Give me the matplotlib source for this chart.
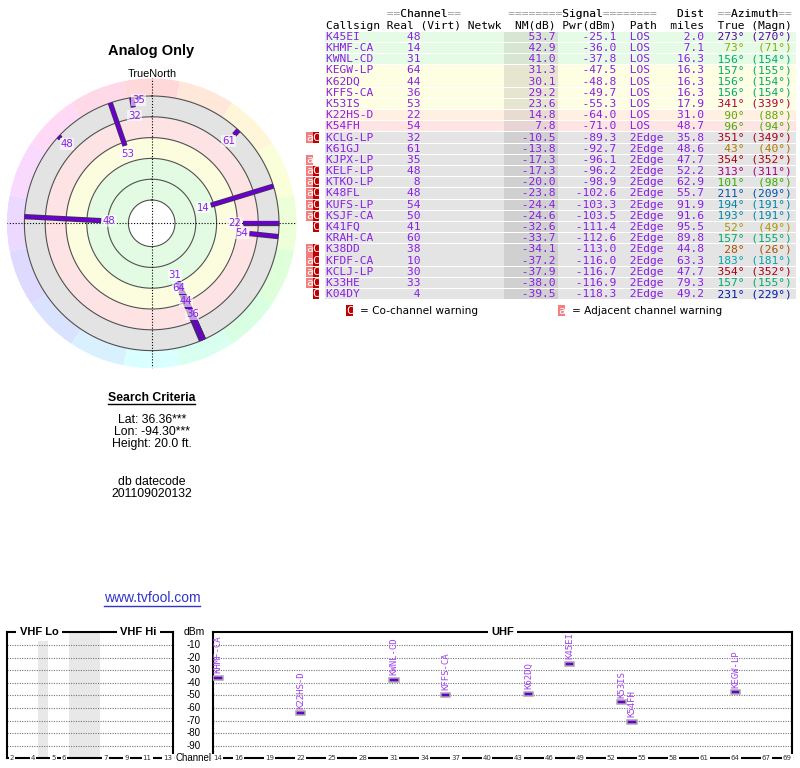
import colorsys
import numpy as np
import matplotlib
matplotlib.use("Agg")
import matplotlib.pyplot as plt
import matplotlib.patheffects as pe

# ============================================================
# TV Fool style report: analog stations (polar plot, table, spectrum)
# ============================================================

callsigns = ["K45EI", "KHMF-CA", "KWNL-CD", "KEGW-LP", "K62DQ", "KFFS-CA", "K53IS",
             "K22HS-D", "K54FH", "KCLG-LP", "K61GJ", "KJPX-LP", "KELF-LP", "KTKO-LP",
             "K48FL", "KUFS-LP", "KSJF-CA", "K41FQ", "KRAH-CA", "K38DD", "KFDF-CA",
             "KCLJ-LP", "K33HE", "K04DY"]
channels = [48, 14, 31, 64, 44, 36, 53, 22, 54, 32, 61, 35, 48, 8, 48, 54, 50, 41,
            60, 38, 10, 30, 33, 4]
nm_db = [53.7, 42.9, 41.0, 31.3, 30.1, 29.2, 23.6, 14.8, 7.8, -10.5, -13.8, -17.3,
         -17.3, -20.0, -23.8, -24.4, -24.6, -32.6, -33.7, -34.1, -37.2, -37.9, -38.0, -39.5]
pwr_dbm = [-25.1, -36.0, -37.8, -47.5, -48.8, -49.7, -55.3, -64.0, -71.0, -89.3, -92.7,
           -96.1, -96.2, -98.9, -102.6, -103.3, -103.5, -111.4, -112.6, -113.0, -116.0,
           -116.7, -116.9, -118.3]
paths = ["LOS"] * 9 + ["2Edge"] * 15
dist_miles = [2.0, 7.1, 16.3, 16.3, 16.3, 16.3, 17.9, 31.0, 48.7, 35.8, 48.6, 47.7, 52.2,
              62.9, 55.7, 91.9, 91.6, 95.5, 89.8, 44.8, 63.3, 47.7, 79.3, 49.2]
az_true = [273, 73, 156, 157, 156, 156, 341, 90, 96, 351, 43, 354, 313, 101, 211, 194,
           193, 52, 157, 28, 183, 354, 157, 231]
az_magn = [270, 71, 154, 155, 154, 154, 339, 88, 94, 349, 40, 352, 311, 98, 209, 191,
           191, 49, 155, 26, 181, 352, 155, 229]
warnings = ["", "", "", "", "", "", "", "", "", "aC", "", "a", "aC", "aC", "aC", "aC",
            "aC", "C", "", "aC", "aC", "aC", "aC", "C"]

vhf_ticks = [2, 4, 5, 6, 7, 9, 11, 13]
uhf_ticks = [14, 16, 19, 22, 25, 28, 31, 34, 37, 40, 43, 46, 49, 52, 55, 58, 61, 64, 67, 69]
dbm_ticks = [-10, -20, -30, -40, -50, -60, -70, -80, -90]
ring_levels = [80, 60, 40, 20, 0, -20]

PURPLE = "#8a1fe6"
LINE_PURPLE = "#6a00d0"
LABEL_PURPLE = "#a040f0"
MONO = "DejaVu Sans Mono"
SANS = "Liberation Sans"


def az_color(az, sat=1.0, val=0.68):
    return colorsys.hsv_to_rgb((az % 360) / 360.0, sat, val)


def zone_colors(nm):
    # (row background, NM column background)
    if nm >= 35:
        return "#e6fbe6", "#d6e6d2"
    if nm >= 20:
        return "#fefee2", "#e6e6d0"
    if nm >= 10:
        return "#fff0e2", "#e8dcd2"
    if nm >= 0:
        return "#ffe4e4", "#e8d4d4"
    return "#e4e4e4", "#d0d0d0"


def place(items, fill=" "):
    width = max(c + len(t) for c, t in items)
    chars = [fill] * width
    for c, t in items:
        chars[c:c + len(t)] = list(t)
    return "".join(chars)


fig = plt.figure(figsize=(8, 7.68), dpi=100)
ov = fig.add_axes([0, 0, 1, 1])
ov.set_xlim(0, 800)
ov.set_ylim(768, 0)
ov.axis("off")

# =========================
# 1. Station table
# =========================
FS_TAB = 8.07
CW = 6.75
X0 = 326
n = len(callsigns)
row_y = 36.8 + 11.19 * np.arange(n)

bg = [zone_colors(v) for v in nm_db]
ov.barh(row_y, 471, left=325, height=10.3, color=[b[0] for b in bg], zorder=1)
ov.barh(row_y, 54, left=504, height=10.3, color=[b[1] for b in bg], zorder=1.1)

head1 = [(9, "==Channel=="), (27, "========Signal========"), (52, "Dist"), (58, "==Azimuth==")]
h1_full = place(head1)
h1_words = h1_full.replace("=", " ")
ov.text(X0, 14.3, h1_full, family=MONO, size=FS_TAB, color="#9a9a9a", va="center")
ov.text(X0, 14.3, h1_words, family=MONO, size=FS_TAB, color="black", va="center")
head2 = place([(0, "Callsign"), (9, "Real"), (14, "(Virt)"), (21, "Netwk"), (28, "NM(dB)"),
               (35, "Pwr(dBm)"), (45, "Path"), (51, "miles"), (58, "True"), (63, "(Magn)")])
ov.text(X0, 25.7, head2, family=MONO, size=FS_TAB, color="black", va="center")

for i in range(n):
    y = row_y[i]
    main = (callsigns[i].ljust(9) + str(channels[i]).rjust(5)
            + f"{nm_db[i]:.1f}".rjust(20) + f"{pwr_dbm[i]:.1f}".rjust(9) + "  "
            + paths[i].ljust(5) + f"{dist_miles[i]:.1f}".rjust(6))
    ov.text(X0, y, main, family=MONO, size=FS_TAB, color=PURPLE, va="center", zorder=3)
    az_txt = f"{az_true[i]}°".rjust(6) + f"({az_magn[i]}°)".rjust(7)
    ov.text(X0 + 56 * CW, y, az_txt, family=MONO, size=FS_TAB,
            color=az_color(az_true[i]), va="center", zorder=3)
    for flag, x_left, col in (("a", 306.0, "#f08080"), ("C", 312.5, "#c00000")):
        if flag in warnings[i]:
            ov.barh(y, 6.5, left=x_left, height=10.3, color=col, zorder=2)
            ov.text(x_left + 3.25, y, flag, family=MONO, size=FS_TAB, color="white",
                    ha="center", va="center", zorder=3)

# legend for warnings
ov.barh(310.7, 7, left=346.3, height=10.5, color="#c00000")
ov.text(349.8, 310.7, "C", family=MONO, size=FS_TAB, color="white", ha="center", va="center")
ov.text(360, 310.7, "= Co-channel warning", family="DejaVu Sans", size=7.6, va="center")
ov.barh(310.7, 6.5, left=558.3, height=10.5, color="#f08080")
ov.text(561.5, 310.7, "a", family=MONO, size=FS_TAB, color="white", ha="center", va="center")
ov.text(571.7, 310.7, "= Adjacent channel warning", family="DejaVu Sans", size=7.6, va="center")

# =========================
# 2. Polar plot
# =========================
R0 = 102.4          # radius units: r = R0 - NM(dB)
RMAX = 139.4
cx, cy, rad_px = 151.7, 223.3, 145.0
pax = fig.add_axes([(cx - rad_px) / 800, (768 - cy - rad_px) / 768,
                    2 * rad_px / 800, 2 * rad_px / 768], projection="polar")
pax.set_theta_zero_location("N")
pax.set_theta_direction(-1)
pax.set_rlim(0, RMAX)
pax.axis("off")

th = np.linspace(0, 2 * np.pi, 721)
zones = [(80, 40, "#e3fbe3"), (40, 20, "#fcfcdf"), (20, 0, "#fde3e3"), (0, -20, "#e3e3e3")]
for hi, lo, col in zones:
    pax.fill_between(th, R0 - hi, R0 - lo, color=col, lw=0, zorder=1)

nseg = 16
seg_c = np.arange(nseg) * 2 * np.pi / nseg
seg_col = [colorsys.hsv_to_rgb(k / nseg, 0.15, 1.0) for k in range(nseg)]
pax.bar(seg_c, RMAX - (R0 + 20), width=2 * np.pi / nseg, bottom=R0 + 20,
        color=seg_col, linewidth=0, zorder=1)

for lvl in ring_levels:
    pax.plot(th, np.full_like(th, R0 - lvl), color="#505050", lw=0.8, zorder=2)

for a in (0, 90, 180, 270):
    pax.plot([np.radians(a)] * 2, [0, RMAX], color="black", lw=0.8,
             ls=(0, (1, 1.6)), zorder=3)

label_r = {"KJPX-LP": 119.2, "KWNL-CD": 54.8, "KEGW-LP": 67.3, "K62DQ": 81.7, "KFFS-CA": 95.8}
shadow = [pe.Stroke(linewidth=3.8, foreground="#3a3a3a"), pe.Normal()]
for i in range(n):
    if nm_db[i] <= -20:
        continue
    t = np.radians(az_true[i])
    pax.plot([t, t], [R0 - nm_db[i], R0 + 20], color=LINE_PURPLE, lw=2.7,
             solid_capstyle="butt", path_effects=shadow, zorder=5)
for i in range(n):
    if nm_db[i] <= -20:
        continue
    t = np.radians(az_true[i])
    rl = label_r.get(callsigns[i], R0 - nm_db[i] - 8)
    pax.text(t, rl, str(channels[i]), family="DejaVu Sans", size=7.3, color=PURPLE,
             ha="center", va="center", zorder=6,
             bbox=dict(boxstyle="square,pad=0.08", fc="white", ec="none", alpha=0.6))

ov.text(151.5, 51, "Analog Only", family=SANS, weight="bold", size=10.5,
        ha="center", va="center")
ov.text(152, 74, "TrueNorth", family=SANS, size=7.8, ha="center", va="center")
ov.text(161, 89.5, "N", family=SANS, size=8, color="red", ha="center", va="center")

# =========================
# 3. Search criteria
# =========================
t_sc = ov.text(151.7, 397.7, "Search Criteria", family=SANS, weight="bold", size=8.8,
               ha="center", va="center")
for txt, y in (("Lat: 36.36***", 420), ("Lon: -94.30***", 432.3), ("Height: 20.0 ft.", 444.3),
               ("db datecode", 481.7), ("201109020132", 494)):
    ov.text(151.7, y, txt, family=SANS, size=8.8, ha="center", va="center")
t_url = ov.text(152, 598.3, "www.tvfool.com", family=SANS, size=10, color="#3333cc",
                ha="center", va="center")

# =========================
# 4. Spectrum
# =========================
vhf_slot = {2: 0, 3: 1, 4: 2, 5: 4, 6: 5, 7: 9, 8: 10, 9: 11, 10: 12, 11: 13, 12: 14, 13: 15}
vax = fig.add_axes([6.8 / 800, 9.6 / 768, 166.4 / 800, 126 / 768])
uax = fig.add_axes([213.3 / 800, 9.6 / 768, 579 / 800, 126 / 768])
vax.set_xlim(-0.5, 15.5)
uax.set_xlim(13.55, 69.5)
vax.axvspan(2.5, 3.5, color="#e8e8e8", lw=0, zorder=0)
vax.axvspan(5.5, 8.5, color="#e8e8e8", lw=0, zorder=0)

for ax in (vax, uax):
    ax.set_ylim(-100, 0)
    ax.set_yticks(dbm_ticks)
    ax.set_xticks([])
    ax.tick_params(length=0, labelleft=False)
    ax.yaxis.grid(True, ls=(0, (1, 1.2)), color="#777777", lw=0.8)
    ax.set_facecolor("none")
    for sp in ax.spines.values():
        sp.set_linewidth(1.5)
        sp.set_color("black")

tick_kw = dict(family="DejaVu Sans", size=5, color="#333333", ha="center", va="center",
               clip_on=False, bbox=dict(boxstyle="square,pad=0.15", fc="white", ec="none"))
for ch in vhf_ticks:
    vax.text(vhf_slot[ch], -100, str(ch), **tick_kw)
for ch in uhf_ticks:
    uax.text(ch, -100, str(ch), **tick_kw)

band_kw = dict(family=SANS, weight="bold", size=8, ha="center", va="center", clip_on=False,
               bbox=dict(boxstyle="square,pad=0.3", fc="white", ec="none"))
vax.text(2.6, 0, "VHF Lo", **band_kw)
vax.text(12.16, 0, "VHF Hi", **band_kw)
uax.text(41.5, 0, "UHF", **band_kw)

blend = matplotlib.transforms.blended_transform_factory(ov.transData, uax.transData)
for v in dbm_ticks:
    ov.text(194, v, str(v), transform=blend, family=SANS, size=7, ha="center", va="center")
ov.text(194, 0, "dBm", transform=blend, family=SANS, size=7.5, ha="center", va="center")
ov.text(194, -100, "Channel", transform=blend, family=SANS, size=7, ha="center", va="center")

for i in range(n):
    if paths[i] != "LOS" or channels[i] < 14:
        continue
    ch, p = channels[i], pwr_dbm[i]
    uax.bar(ch, 3.0, width=0.9, bottom=p - 1.5, color=LINE_PURPLE, edgecolor="#a8a8a8",
            linewidth=1.1, zorder=4)
    uax.text(ch, p + 3.6, callsigns[i], rotation=90, family=MONO, size=6.5,
             color=LABEL_PURPLE, ha="center", va="bottom", clip_on=True, zorder=4)

# underlines for the two link-style texts
fig.canvas.draw()
inv = ov.transData.inverted()
for t, col in ((t_sc, "black"), (t_url, "#3333cc")):
    bb = t.get_window_extent()
    (x1, y1), (x2, y2) = inv.transform([[bb.x0, bb.y0], [bb.x1, bb.y1]])
    ov.plot([x1, x2], [y1 + 0.5, y1 + 0.5], color=col, lw=1)

fig.savefig("out.png", dpi=100)
